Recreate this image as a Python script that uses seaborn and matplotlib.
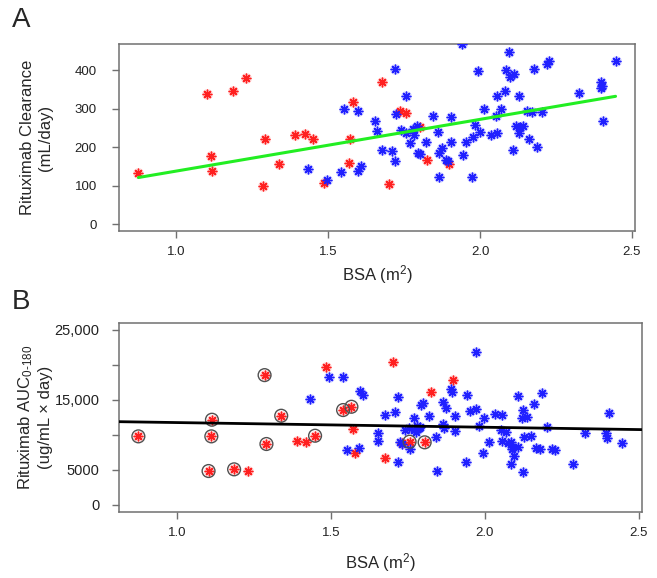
import matplotlib
matplotlib.use("Agg")
import matplotlib.pyplot as plt
import seaborn as sns
import pandas as pd

# Panel A: clearance vs BSA
a_red_bsa = [0.876, 1.103, 1.116, 1.118, 1.186, 1.231, 1.292, 1.287, 1.339, 1.390, 1.423, 1.450,
             1.486, 1.581, 1.573, 1.569, 1.678, 1.736, 1.758, 1.803, 1.826, 1.899, 1.702]
a_red_cl = [132, 339, 176, 139, 345, 380, 222, 100, 156, 231, 235, 222,
            107, 316, 220, 158, 369, 295, 288, 251, 166, 157, 104]

a_blue_bsa = [1.434, 1.496, 1.554, 1.597, 1.542, 1.597, 1.607, 1.656, 1.660, 1.679, 1.710, 1.719,
              1.719, 1.725, 1.739, 1.758, 1.758, 1.771, 1.779, 1.784, 1.794, 1.797, 1.803, 1.821,
              1.844, 1.863, 1.866, 1.875, 1.866, 1.889, 1.894, 1.903, 1.905, 1.941, 1.943, 1.954,
              1.976, 1.975, 1.983, 1.992, 2.001, 2.014, 2.037, 2.053, 2.055, 2.057, 2.069, 2.083,
              2.086, 2.096, 2.099, 2.112, 2.108, 2.118, 2.128, 2.127, 2.133, 2.140, 2.154, 2.161,
              2.171, 2.179, 2.188, 2.205, 2.220, 2.226, 2.327, 2.398, 2.400, 2.397, 2.405, 2.446]
a_blue_cl = [143, 114, 299, 294, 136, 139, 151, 268, 243, 193, 189, 163,
             403, 286, 244, 333, 238, 210, 247, 232, 255, 184, 182, 213,
             280, 239, 184, 197, 123, 167, 164, 214, 277, 467, 180, 214,
             226, 123, 257, 399, 239, 300, 232, 280, 237, 332, 300, 345,
             401, 447, 381, 391, 192, 256, 332, 237, 251, 255, 294, 222,
             292, 403, 200, 292, 416, 423, 340, 368, 358, 353, 269, 424]

# fitted line of panel A, as shown in the figure (mL/day = a + b * BSA)
a_fit_intercept = 3.3
a_fit_slope = 134.4

# Panel B: AUC 0-180 vs BSA
b_red_bsa = [0.875, 1.114, 1.112, 1.103, 1.186, 1.285, 1.291, 1.339, 1.449, 1.540, 1.567, 1.756,
             1.805, 1.231, 1.389, 1.421, 1.486, 1.571, 1.580, 1.701, 1.677, 1.731, 1.825, 1.898]
b_red_auc = [9780, 12150, 9780, 4840, 5080, 18510, 8690, 12720, 9870, 13530, 14000, 9020,
             8930, 4790, 9110, 9020, 19700, 10780, 7400, 20410, 6740, 8830, 16050, 17800]
b_red_circled = [True] * 13 + [False] * 11

b_blue_bsa = [1.434, 1.493, 1.539, 1.554, 1.593, 1.594, 1.605, 1.653, 1.653, 1.677, 1.709, 1.717,
              1.717, 1.769, 1.756, 1.793, 1.801, 1.820, 1.842, 1.844, 1.866, 1.873, 1.864, 1.868,
              1.890, 1.893, 1.902, 1.902, 1.941, 1.938, 1.952, 1.971, 1.973, 1.983, 1.993, 1.998,
              2.015, 2.033, 2.055, 1.740, 1.753, 1.769, 1.780, 1.785, 1.790, 1.776, 1.726, 1.731,
              2.052, 2.068, 2.057, 2.075, 2.084, 2.088, 2.093, 2.109, 2.096, 2.084, 2.107, 2.125,
              2.120, 2.138, 2.127, 2.150, 2.125, 2.160, 2.187, 2.168, 2.179, 2.203, 2.219, 2.228,
              2.287, 2.327, 2.393, 2.397, 2.404, 2.446]
b_blue_auc = [15050, 18270, 18180, 7790, 8120, 16240, 15660, 10210, 9160, 12860, 13290, 15420,
              6170, 12430, 7930, 14240, 14570, 12670, 9730, 4890, 14710, 13770, 11490, 10920,
              16520, 16140, 12720, 10580, 15660, 6170, 13430, 13630, 21830, 11250, 7400, 12340,
              8930, 12920, 12770, 10680, 10920, 10680, 11250, 10920, 11150, 10440, 9010, 8690,
              10680, 10350, 9160, 8870, 9010, 7930, 8300, 8200, 7000, 5840, 15520, 13530,
              12350, 12490, 9650, 9850, 4740, 14380, 15990, 8160, 7970, 11150, 7930, 7830,
              5840, 10210, 10210, 9590, 13060, 8790]

a_yticks = [0, 100, 200, 300, 400]
b_yticks = [0, 5000, 10000, 15000, 20000, 25000]
b_yticklabels = ["0", "5000", "", "15,000", "", "25,000"]
x_ticks = [1.0, 1.5, 2.0, 2.5]

sns.set_theme(style="white")
plt.rcParams["font.family"] = ["Liberation Sans", "DejaVu Sans"]
plt.rcParams["mathtext.default"] = "regular"

df_a_red = pd.DataFrame({"bsa": a_red_bsa, "val": a_red_cl})
df_a_blue = pd.DataFrame({"bsa": a_blue_bsa, "val": a_blue_cl})
df_a = pd.concat([df_a_red, df_a_blue])
bsa_span = [df_a["bsa"].min(), df_a["bsa"].max()]
df_a_fit = pd.DataFrame({"bsa": bsa_span,
                         "val": [a_fit_intercept + a_fit_slope * b for b in bsa_span]})
df_b_red = pd.DataFrame({"bsa": b_red_bsa, "val": b_red_auc, "circ": b_red_circled})
df_b_blue = pd.DataFrame({"bsa": b_blue_bsa, "val": b_blue_auc})
df_b = pd.concat([df_b_red[["bsa", "val"]], df_b_blue])

fig = plt.figure(figsize=(6.57, 5.78), dpi=100)
ax1 = fig.add_axes([0.1811, 0.6003, 0.7854, 0.3236])
ax2 = fig.add_axes([0.1811, 0.1142, 0.7956, 0.3265])


def stars(ax, df, col, halo):
    sns.scatterplot(data=df, x="bsa", y="val", ax=ax, color=halo, s=60, alpha=0.45,
                    linewidth=0, legend=False, zorder=2)
    sns.scatterplot(data=df, x="bsa", y="val", ax=ax, color=col, marker=(8, 2, 0), s=38,
                    linewidth=1.0, legend=False, zorder=3)


def style_axes(ax, yticks, ylim, tick_fs, ypad):
    ax.set_xlim(0.812, 2.51)
    ax.set_ylim(*ylim)
    ax.set_xticks(x_ticks)
    ax.set_xticklabels([f"{t:.1f}" for t in x_ticks])
    ax.set_yticks(yticks)
    for s in ax.spines.values():
        s.set_color("#707070")
        s.set_linewidth(1.1)
    ax.tick_params(axis="both", direction="out", length=5, width=1.0, color="#707070",
                   labelcolor="#222222", bottom=True, left=True)
    ax.tick_params(axis="x", labelsize=9.5, pad=6)
    ax.tick_params(axis="y", labelsize=tick_fs, pad=ypad)
    ax.grid(False)


# Panel A
style_axes(ax1, a_yticks, (-18, 468), 9.5, 11)
stars(ax1, df_a_red, "#ff2020", "#ff9090")
stars(ax1, df_a_blue, "#2020ff", "#9090ff")
sns.lineplot(data=df_a_fit, x="bsa", y="val", ax=ax1, color="#22ee22", lw=2.2, zorder=4)
ax1.set_xlabel("BSA (m$^2$)", fontsize=12)
ax1.set_ylabel("Rituximab Clearance\n(mL/day)", fontsize=12, linespacing=1.25)
ax1.xaxis.set_label_coords(0.5, -0.17)
ax1.yaxis.set_label_coords(-0.128, 0.5)

# Panel B
style_axes(ax2, b_yticks, (-1000, 25900), 10.5, 9)
ax2.set_yticklabels(b_yticklabels)
stars(ax2, df_b_red, "#ff2020", "#ff9090")
stars(ax2, df_b_blue, "#2020ff", "#9090ff")
sns.scatterplot(data=df_b_red[df_b_red["circ"]], x="bsa", y="val", ax=ax2, s=85,
                facecolor="none", edgecolor="#505050", linewidth=1.0, legend=False, zorder=4)
sns.regplot(data=df_b, x="bsa", y="val", ax=ax2, scatter=False, ci=None, truncate=False,
            line_kws={"color": "black", "lw": 2.0, "zorder": 5})
ax2.set_xlim(0.812, 2.51)
ax2.set_xlabel("BSA (m$^2$)", fontsize=12)
ax2.set_ylabel("Rituximab AUC$_{0\u2010180}$\n(ug/mL \u00d7 day)", fontsize=12, linespacing=1.25)
ax2.xaxis.set_label_coords(0.5, -0.205)
ax2.yaxis.set_label_coords(-0.126, 0.5)

fig.text(0.018, 1 - 20 / 578, "A", fontsize=20, va="center", ha="left")
fig.text(0.018, 1 - 302 / 578, "B", fontsize=20, va="center", ha="left")

fig.savefig("out.png", dpi=100)
